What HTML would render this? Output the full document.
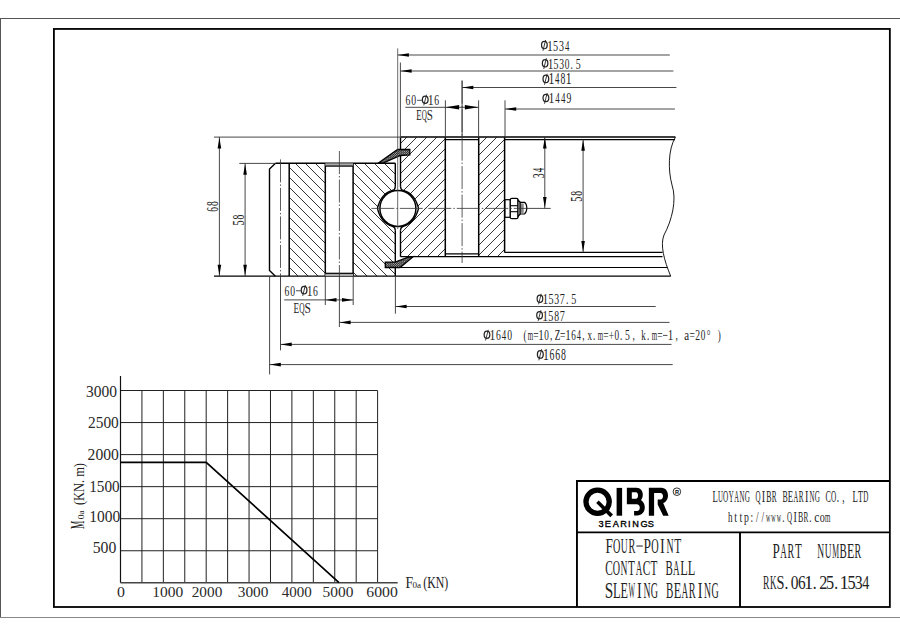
<!DOCTYPE html><html><head><meta charset="utf-8"><style>html,body{margin:0;padding:0;background:#fff;}svg{display:block;}</style></head><body>
<svg width="900" height="636" viewBox="0 0 900 636">
<defs><pattern id="dots" patternUnits="userSpaceOnUse" width="2.2" height="2.2"><rect width="2.2" height="2.2" fill="#151515"/><circle cx="0.55" cy="0.55" r="0.5" fill="#fff"/><circle cx="1.65" cy="1.65" r="0.5" fill="#fff"/></pattern></defs>
<rect x="0" y="0" width="900" height="636" fill="#fff"/>
<line x1="0.00" y1="18.50" x2="900.00" y2="18.50" stroke="#555" stroke-width="1" />
<line x1="0.50" y1="18.00" x2="0.50" y2="618.00" stroke="#555" stroke-width="1" />
<line x1="0.00" y1="617.50" x2="900.00" y2="617.50" stroke="#888" stroke-width="1.1" />
<rect x="53.9" y="28.95" width="835.95" height="578.05" fill="none" stroke="#000" stroke-width="1.8"/>
<clipPath id="h1"><polygon points="289.20,163.30 325.30,163.30 325.30,276.00 289.20,276.00"/></clipPath>
<g clip-path="url(#h1)" stroke="#111" stroke-width="0.85">
<line x1="173.30" y1="161.30" x2="290.00" y2="278.00"/>
<line x1="183.30" y1="161.30" x2="300.00" y2="278.00"/>
<line x1="193.30" y1="161.30" x2="310.00" y2="278.00"/>
<line x1="203.30" y1="161.30" x2="320.00" y2="278.00"/>
<line x1="213.30" y1="161.30" x2="330.00" y2="278.00"/>
<line x1="223.30" y1="161.30" x2="340.00" y2="278.00"/>
<line x1="233.30" y1="161.30" x2="350.00" y2="278.00"/>
<line x1="243.30" y1="161.30" x2="360.00" y2="278.00"/>
<line x1="253.30" y1="161.30" x2="370.00" y2="278.00"/>
<line x1="263.30" y1="161.30" x2="380.00" y2="278.00"/>
<line x1="273.30" y1="161.30" x2="390.00" y2="278.00"/>
<line x1="283.30" y1="161.30" x2="400.00" y2="278.00"/>
<line x1="293.30" y1="161.30" x2="410.00" y2="278.00"/>
<line x1="303.30" y1="161.30" x2="420.00" y2="278.00"/>
<line x1="313.30" y1="161.30" x2="430.00" y2="278.00"/>
<line x1="323.30" y1="161.30" x2="440.00" y2="278.00"/>
</g>
<clipPath id="h2"><polygon points="353.10,163.30 395.30,163.30 395.30,276.00 353.10,276.00"/></clipPath>
<g clip-path="url(#h2)" stroke="#111" stroke-width="0.85">
<line x1="232.30" y1="161.30" x2="349.00" y2="278.00"/>
<line x1="242.30" y1="161.30" x2="359.00" y2="278.00"/>
<line x1="252.30" y1="161.30" x2="369.00" y2="278.00"/>
<line x1="262.30" y1="161.30" x2="379.00" y2="278.00"/>
<line x1="272.30" y1="161.30" x2="389.00" y2="278.00"/>
<line x1="282.30" y1="161.30" x2="399.00" y2="278.00"/>
<line x1="292.30" y1="161.30" x2="409.00" y2="278.00"/>
<line x1="302.30" y1="161.30" x2="419.00" y2="278.00"/>
<line x1="312.30" y1="161.30" x2="429.00" y2="278.00"/>
<line x1="322.30" y1="161.30" x2="439.00" y2="278.00"/>
<line x1="332.30" y1="161.30" x2="449.00" y2="278.00"/>
<line x1="342.30" y1="161.30" x2="459.00" y2="278.00"/>
<line x1="352.30" y1="161.30" x2="469.00" y2="278.00"/>
<line x1="362.30" y1="161.30" x2="479.00" y2="278.00"/>
<line x1="372.30" y1="161.30" x2="489.00" y2="278.00"/>
<line x1="382.30" y1="161.30" x2="499.00" y2="278.00"/>
<line x1="392.30" y1="161.30" x2="509.00" y2="278.00"/>
</g>
<clipPath id="h3"><polygon points="400.50,137.30 445.30,137.30 445.30,256.40 400.50,256.40"/></clipPath>
<g clip-path="url(#h3)" stroke="#111" stroke-width="0.85">
<line x1="398.70" y1="135.30" x2="275.60" y2="258.40"/>
<line x1="408.70" y1="135.30" x2="285.60" y2="258.40"/>
<line x1="418.70" y1="135.30" x2="295.60" y2="258.40"/>
<line x1="428.70" y1="135.30" x2="305.60" y2="258.40"/>
<line x1="438.70" y1="135.30" x2="315.60" y2="258.40"/>
<line x1="448.70" y1="135.30" x2="325.60" y2="258.40"/>
<line x1="458.70" y1="135.30" x2="335.60" y2="258.40"/>
<line x1="468.70" y1="135.30" x2="345.60" y2="258.40"/>
<line x1="478.70" y1="135.30" x2="355.60" y2="258.40"/>
<line x1="488.70" y1="135.30" x2="365.60" y2="258.40"/>
<line x1="498.70" y1="135.30" x2="375.60" y2="258.40"/>
<line x1="508.70" y1="135.30" x2="385.60" y2="258.40"/>
<line x1="518.70" y1="135.30" x2="395.60" y2="258.40"/>
<line x1="528.70" y1="135.30" x2="405.60" y2="258.40"/>
<line x1="538.70" y1="135.30" x2="415.60" y2="258.40"/>
<line x1="548.70" y1="135.30" x2="425.60" y2="258.40"/>
<line x1="558.70" y1="135.30" x2="435.60" y2="258.40"/>
</g>
<clipPath id="h4"><polygon points="478.70,137.30 504.60,137.30 504.60,256.40 478.70,256.40"/></clipPath>
<g clip-path="url(#h4)" stroke="#111" stroke-width="0.85">
<line x1="478.70" y1="135.30" x2="355.60" y2="258.40"/>
<line x1="488.70" y1="135.30" x2="365.60" y2="258.40"/>
<line x1="498.70" y1="135.30" x2="375.60" y2="258.40"/>
<line x1="508.70" y1="135.30" x2="385.60" y2="258.40"/>
<line x1="518.70" y1="135.30" x2="395.60" y2="258.40"/>
<line x1="528.70" y1="135.30" x2="405.60" y2="258.40"/>
<line x1="538.70" y1="135.30" x2="415.60" y2="258.40"/>
<line x1="548.70" y1="135.30" x2="425.60" y2="258.40"/>
<line x1="558.70" y1="135.30" x2="435.60" y2="258.40"/>
<line x1="568.70" y1="135.30" x2="445.60" y2="258.40"/>
<line x1="578.70" y1="135.30" x2="455.60" y2="258.40"/>
<line x1="588.70" y1="135.30" x2="465.60" y2="258.40"/>
<line x1="598.70" y1="135.30" x2="475.60" y2="258.40"/>
<line x1="608.70" y1="135.30" x2="485.60" y2="258.40"/>
<line x1="618.70" y1="135.30" x2="495.60" y2="258.40"/>
</g>
<path d="M 395.3 186.5 Q 395.3 189.6 392.5 190.4 Q 381 193.5 377.4 208.4 Q 381 223.3 392.5 226.4 Q 395.3 227.2 395.3 230.3 L 400.5 230.3 Q 400.5 227.2 403.3 226.4 Q 414.8 223.3 418.6 208.4 Q 414.8 193.5 403.3 190.4 Q 400.5 189.6 400.5 186.5 Z" fill="#fff"/>
<rect x="395.3" y="138" width="5.2" height="138" fill="#fff"/>
<polyline points="275.50,163.30 269.50,169.00 269.50,270.50 275.40,276.20" fill="none" stroke="#000" stroke-width="1.4" stroke-linejoin="miter" />
<line x1="275.50" y1="163.30" x2="395.30" y2="163.30" stroke="#000" stroke-width="1.4" />
<line x1="214.00" y1="276.10" x2="670.70" y2="276.10" stroke="#000" stroke-width="1.2" />
<line x1="289.20" y1="163.30" x2="289.20" y2="276.10" stroke="#000" stroke-width="1.5" />
<line x1="325.30" y1="163.30" x2="325.30" y2="276.10" stroke="#000" stroke-width="1.5" />
<line x1="353.10" y1="163.30" x2="353.10" y2="276.10" stroke="#000" stroke-width="1.5" />
<rect x="325.3" y="163.3" width="27.8" height="2.8" fill="#aaa"/>
<line x1="325.30" y1="166.10" x2="353.10" y2="166.10" stroke="#000" stroke-width="1.2" />
<rect x="325.3" y="273.3" width="27.8" height="2.8" fill="#aaa"/>
<line x1="325.30" y1="273.30" x2="353.10" y2="273.30" stroke="#000" stroke-width="1.2" />
<line x1="395.30" y1="163.30" x2="395.30" y2="186.70" stroke="#000" stroke-width="1.4" />
<line x1="395.30" y1="230.30" x2="395.30" y2="276.10" stroke="#000" stroke-width="1.4" />
<line x1="400.50" y1="137.00" x2="675.40" y2="137.00" stroke="#000" stroke-width="1.5" />
<line x1="505.00" y1="139.60" x2="675.00" y2="139.60" stroke="#000" stroke-width="1.2" />
<line x1="400.50" y1="137.30" x2="400.50" y2="186.70" stroke="#000" stroke-width="1.4" />
<line x1="400.50" y1="230.30" x2="400.50" y2="256.60" stroke="#000" stroke-width="1.4" />
<line x1="400.40" y1="256.60" x2="662.50" y2="256.60" stroke="#000" stroke-width="1.2" />
<line x1="445.30" y1="137.30" x2="445.30" y2="256.60" stroke="#000" stroke-width="1.5" />
<line x1="478.70" y1="137.30" x2="478.70" y2="256.60" stroke="#000" stroke-width="1.5" />
<line x1="504.60" y1="137.30" x2="504.60" y2="252.50" stroke="#000" stroke-width="1.5" />
<line x1="504.60" y1="252.30" x2="662.50" y2="252.30" stroke="#000" stroke-width="1.2" />
<line x1="445.30" y1="139.60" x2="478.70" y2="139.60" stroke="#000" stroke-width="1.2" />
<line x1="445.30" y1="253.80" x2="478.70" y2="253.80" stroke="#000" stroke-width="1.2" />
<line x1="385.30" y1="267.50" x2="667.50" y2="267.50" stroke="#000" stroke-width="1.2" />
<path d="M 395.3 186.5 Q 395.3 189.6 392.5 190.4 Q 381 193.5 377.4 208.4 Q 381 223.3 392.5 226.4 Q 395.3 227.2 395.3 230.3" fill="none" stroke="#000" stroke-width="1.3"/>
<path d="M 400.5 186.5 Q 400.5 189.6 403.3 190.4 Q 414.8 193.5 418.6 208.4 Q 414.8 223.3 403.3 226.4 Q 400.5 227.2 400.5 230.3" fill="none" stroke="#000" stroke-width="1.3"/>
<circle cx="397.9" cy="208.4" r="18" fill="#fff" stroke="#000" stroke-width="1.5"/>
<polygon points="378.40,163.00 397.60,149.50 409.80,149.50 409.80,154.80 400.40,155.50 383.00,163.00" fill="url(#dots)" stroke="#000" stroke-width="1.3" stroke-linejoin="miter" />
<polygon points="385.30,262.10 395.20,262.10 407.60,257.30 413.20,256.70 400.00,267.50 385.30,267.50" fill="url(#dots)" stroke="#000" stroke-width="1.3" stroke-linejoin="miter" />
<path d="M 675.4 137.1 C 668 150, 668 170, 672 185 C 677 200, 672 220, 664 235 C 660 245, 664 260, 670.7 276.2" fill="none" stroke="#000" stroke-width="0.9"/>
<g fill="#fff" stroke="#000" stroke-width="1.2">
<rect x="505" y="199.7" width="5.3" height="17.6"/>
<rect x="510.3" y="198.3" width="7.7" height="20.4" rx="1.5"/>
<polygon points="518,200 520.2,202.3 520.2,214 518,216.6"/>
<path d="M 520.2 202.3 L 524.5 202.3 Q 526.8 204 526.8 208.1 Q 526.8 212.3 524.5 214 L 520.2 214 Z"/>
</g>
<line x1="510.30" y1="205.70" x2="518.00" y2="205.70" stroke="#000" stroke-width="1.1" />
<line x1="510.30" y1="211.70" x2="518.00" y2="211.70" stroke="#000" stroke-width="1.1" />
<rect x="521" y="203.5" width="2.7" height="9.4" fill="#888"/>
<line x1="280.50" y1="159.40" x2="280.50" y2="276.00" stroke="#333" stroke-width="0.8" stroke-dasharray="23 2 1.5 2"/>
<line x1="339.40" y1="151.00" x2="339.40" y2="276.00" stroke="#333" stroke-width="0.8" stroke-dasharray="23 2 1.5 2"/>
<line x1="462.10" y1="80.60" x2="462.10" y2="263.00" stroke="#333" stroke-width="0.8" stroke-dasharray="23 2 1.5 2"/>
<line x1="371.30" y1="208.40" x2="526.80" y2="208.40" stroke="#333" stroke-width="0.8" stroke-dasharray="23 2 1.5 2"/>
<line x1="397.70" y1="48.40" x2="397.70" y2="229.00" stroke="#444" stroke-width="0.8" />
<line x1="214.00" y1="137.10" x2="400.50" y2="137.10" stroke="#333" stroke-width="0.9" />
<line x1="239.30" y1="163.40" x2="275.50" y2="163.40" stroke="#333" stroke-width="0.9" />
<line x1="219.40" y1="137.10" x2="219.40" y2="276.10" stroke="#333" stroke-width="0.9" />
<polygon points="219.40,137.40 217.60,148.40 221.20,148.40" fill="#000"/>
<polygon points="219.40,275.80 217.60,264.80 221.20,264.80" fill="#000"/>
<line x1="245.10" y1="163.40" x2="245.10" y2="276.10" stroke="#333" stroke-width="0.9" />
<polygon points="245.10,163.70 243.30,174.70 246.90,174.70" fill="#000"/>
<polygon points="245.10,275.80 243.30,264.80 246.90,264.80" fill="#000"/>
<line x1="400.40" y1="62.50" x2="400.40" y2="137.30" stroke="#333" stroke-width="0.9" />
<line x1="462.10" y1="80.60" x2="462.10" y2="137.30" stroke="#333" stroke-width="0.9" />
<line x1="445.40" y1="100.30" x2="445.40" y2="137.30" stroke="#333" stroke-width="0.9" />
<line x1="478.60" y1="100.30" x2="478.60" y2="137.30" stroke="#333" stroke-width="0.9" />
<line x1="505.00" y1="100.30" x2="505.00" y2="137.30" stroke="#333" stroke-width="0.9" />
<line x1="397.70" y1="55.00" x2="669.80" y2="55.00" stroke="#333" stroke-width="0.9" />
<polygon points="397.90,55.00 408.90,53.20 408.90,56.80" fill="#000"/>
<line x1="400.40" y1="71.00" x2="673.40" y2="71.00" stroke="#333" stroke-width="0.9" />
<polygon points="400.60,71.00 411.60,69.20 411.60,72.80" fill="#000"/>
<line x1="462.10" y1="87.50" x2="676.40" y2="87.50" stroke="#333" stroke-width="0.9" />
<polygon points="462.30,87.50 473.30,85.70 473.30,89.30" fill="#000"/>
<line x1="505.00" y1="109.00" x2="674.90" y2="109.00" stroke="#333" stroke-width="0.9" />
<polygon points="505.20,109.00 516.20,107.20 516.20,110.80" fill="#000"/>
<line x1="405.30" y1="107.30" x2="478.60" y2="107.30" stroke="#333" stroke-width="0.9" />
<polygon points="445.60,107.30 459.10,105.10 459.10,109.50" fill="#000"/>
<polygon points="478.40,107.30 464.90,105.10 464.90,109.50" fill="#000"/>
<line x1="526.80" y1="208.40" x2="550.70" y2="208.40" stroke="#333" stroke-width="0.9" />
<line x1="544.80" y1="137.30" x2="544.80" y2="208.40" stroke="#333" stroke-width="0.9" />
<polygon points="544.80,137.60 543.00,148.60 546.60,148.60" fill="#000"/>
<polygon points="544.80,208.10 543.00,197.10 546.60,197.10" fill="#000"/>
<line x1="583.10" y1="139.60" x2="583.10" y2="252.30" stroke="#333" stroke-width="0.9" />
<polygon points="583.10,139.80 581.30,150.80 584.90,150.80" fill="#000"/>
<polygon points="583.10,252.00 581.30,241.00 584.90,241.00" fill="#000"/>
<line x1="269.60" y1="276.00" x2="269.60" y2="374.40" stroke="#333" stroke-width="0.9" />
<line x1="280.50" y1="276.00" x2="280.50" y2="350.30" stroke="#333" stroke-width="0.9" />
<line x1="325.30" y1="276.00" x2="325.30" y2="305.00" stroke="#333" stroke-width="0.9" />
<line x1="353.20" y1="276.00" x2="353.20" y2="305.00" stroke="#333" stroke-width="0.9" />
<line x1="339.40" y1="276.00" x2="339.40" y2="327.00" stroke="#333" stroke-width="0.9" />
<line x1="395.40" y1="276.00" x2="395.40" y2="313.70" stroke="#333" stroke-width="0.9" />
<line x1="284.20" y1="299.90" x2="353.20" y2="299.90" stroke="#333" stroke-width="0.9" />
<polygon points="325.50,299.90 336.50,298.00 336.50,301.80" fill="#000"/>
<polygon points="353.00,299.90 342.00,298.00 342.00,301.80" fill="#000"/>
<line x1="395.40" y1="306.50" x2="655.70" y2="306.50" stroke="#333" stroke-width="0.9" />
<polygon points="395.60,306.50 406.60,304.70 406.60,308.30" fill="#000"/>
<line x1="339.40" y1="322.40" x2="669.50" y2="322.40" stroke="#333" stroke-width="0.9" />
<polygon points="339.60,322.40 350.60,320.60 350.60,324.20" fill="#000"/>
<line x1="280.50" y1="344.40" x2="671.50" y2="344.40" stroke="#333" stroke-width="0.9" />
<polygon points="280.70,344.40 291.70,342.60 291.70,346.20" fill="#000"/>
<line x1="269.60" y1="364.60" x2="672.70" y2="364.60" stroke="#333" stroke-width="0.9" />
<polygon points="269.80,364.60 280.80,362.80 280.80,366.40" fill="#000"/>
<g font-family="Liberation Serif" fill="#222"><ellipse cx="544.38" cy="45.04" rx="2.84" ry="3.71" fill="none" stroke="#222" stroke-width="1.24"/><line x1="545.65" y1="39.99" x2="542.95" y2="50.81" stroke="#222" stroke-width="0.88"/><text transform="translate(550.06,50.50) scale(0.745,1)" x="-4.12" y="0" font-size="15.61">1</text><text transform="translate(555.75,50.50) scale(0.651,1)" x="-4.05" y="0" font-size="15.61">5</text><text transform="translate(561.44,50.50) scale(0.635,1)" x="-3.97" y="0" font-size="15.61">3</text><text transform="translate(567.12,50.50) scale(0.564,1)" x="-3.93" y="0" font-size="15.61">4</text></g>
<g font-family="Liberation Serif" fill="#222"><ellipse cx="545.11" cy="63.24" rx="2.76" ry="3.71" fill="none" stroke="#222" stroke-width="1.24"/><line x1="546.35" y1="58.19" x2="543.73" y2="69.01" stroke="#222" stroke-width="0.88"/><text transform="translate(550.62,68.70) scale(0.723,1)" x="-4.12" y="0" font-size="15.61">1</text><text transform="translate(556.14,68.70) scale(0.632,1)" x="-4.05" y="0" font-size="15.61">5</text><text transform="translate(561.65,68.70) scale(0.616,1)" x="-3.97" y="0" font-size="15.61">3</text><text transform="translate(567.16,68.70) scale(0.600,1)" x="-3.90" y="0" font-size="15.61">0</text><text transform="translate(571.69,68.70) scale(0.600,1)" x="-1.95" y="0" font-size="15.61">.</text><text transform="translate(578.19,68.70) scale(0.632,1)" x="-4.05" y="0" font-size="15.61">5</text></g>
<g font-family="Liberation Serif" fill="#222"><ellipse cx="545.88" cy="78.89" rx="2.85" ry="3.74" fill="none" stroke="#222" stroke-width="1.25"/><line x1="547.17" y1="73.79" x2="544.46" y2="84.71" stroke="#222" stroke-width="0.88"/><text transform="translate(551.59,84.40) scale(0.741,1)" x="-4.16" y="0" font-size="15.76">1</text><text transform="translate(557.30,84.40) scale(0.561,1)" x="-3.97" y="0" font-size="15.76">4</text><text transform="translate(563.01,84.40) scale(0.615,1)" x="-3.94" y="0" font-size="15.76">8</text><text transform="translate(568.72,84.40) scale(0.741,1)" x="-4.16" y="0" font-size="15.76">1</text></g>
<g font-family="Liberation Serif" fill="#222"><ellipse cx="545.91" cy="97.99" rx="2.89" ry="3.67" fill="none" stroke="#222" stroke-width="1.22"/><line x1="547.21" y1="93.00" x2="544.47" y2="103.71" stroke="#222" stroke-width="0.87"/><text transform="translate(551.68,103.40) scale(0.764,1)" x="-4.08" y="0" font-size="15.45">1</text><text transform="translate(557.45,103.40) scale(0.578,1)" x="-3.89" y="0" font-size="15.45">4</text><text transform="translate(563.22,103.40) scale(0.578,1)" x="-3.89" y="0" font-size="15.45">4</text><text transform="translate(568.99,103.40) scale(0.630,1)" x="-3.80" y="0" font-size="15.45">9</text></g>
<g font-family="Liberation Serif" fill="#222"><text transform="translate(408.00,105.10) scale(0.626,1)" x="-3.97" y="0" font-size="15.45">6</text><text transform="translate(413.74,105.10) scale(0.631,1)" x="-3.86" y="0" font-size="15.45">0</text><line x1="417.07" y1="100.31" x2="421.89" y2="100.31" stroke="#222" stroke-width="0.80"/><ellipse cx="425.22" cy="99.69" rx="2.87" ry="3.67" fill="none" stroke="#222" stroke-width="1.22"/><line x1="426.51" y1="94.70" x2="423.79" y2="105.41" stroke="#222" stroke-width="0.87"/><text transform="translate(430.96,105.10) scale(0.760,1)" x="-4.08" y="0" font-size="15.45">1</text><text transform="translate(436.70,105.10) scale(0.626,1)" x="-3.97" y="0" font-size="15.45">6</text></g>
<g font-family="Liberation Serif" fill="#222"><text transform="translate(418.89,119.60) scale(0.601,1)" x="-4.33" y="0" font-size="14.70">E</text><text transform="translate(424.35,119.60) scale(0.481,1)" x="-5.48" y="0" font-size="14.70">Q</text><text transform="translate(429.81,119.60) scale(0.748,1)" x="-4.12" y="0" font-size="14.70">S</text></g>
<g font-family="Liberation Serif" fill="#222"><text transform="translate(287.07,295.60) scale(0.613,1)" x="-4.00" y="0" font-size="15.61">6</text><text transform="translate(292.74,295.60) scale(0.617,1)" x="-3.90" y="0" font-size="15.61">0</text><line x1="296.03" y1="290.76" x2="300.80" y2="290.76" stroke="#222" stroke-width="0.80"/><ellipse cx="304.09" cy="290.14" rx="2.84" ry="3.71" fill="none" stroke="#222" stroke-width="1.24"/><line x1="305.36" y1="285.09" x2="302.67" y2="295.91" stroke="#222" stroke-width="0.88"/><text transform="translate(309.76,295.60) scale(0.743,1)" x="-4.12" y="0" font-size="15.61">1</text><text transform="translate(315.43,295.60) scale(0.613,1)" x="-4.00" y="0" font-size="15.61">6</text></g>
<g font-family="Liberation Serif" fill="#222"><text transform="translate(296.29,312.60) scale(0.622,1)" x="-4.38" y="0" font-size="14.85">E</text><text transform="translate(302.00,312.60) scale(0.498,1)" x="-5.54" y="0" font-size="14.85">Q</text><text transform="translate(307.71,312.60) scale(0.775,1)" x="-4.17" y="0" font-size="14.85">S</text></g>
<g font-family="Liberation Serif" fill="#222"><ellipse cx="539.95" cy="298.70" rx="2.82" ry="3.60" fill="none" stroke="#222" stroke-width="1.20"/><line x1="541.22" y1="293.80" x2="538.54" y2="304.30" stroke="#222" stroke-width="0.85"/><text transform="translate(545.59,304.00) scale(0.760,1)" x="-4.00" y="0" font-size="15.15">1</text><text transform="translate(551.22,304.00) scale(0.664,1)" x="-3.93" y="0" font-size="15.15">5</text><text transform="translate(556.85,304.00) scale(0.648,1)" x="-3.85" y="0" font-size="15.15">3</text><text transform="translate(562.48,304.00) scale(0.660,1)" x="-4.07" y="0" font-size="15.15">7</text><text transform="translate(567.10,304.00) scale(0.631,1)" x="-1.89" y="0" font-size="15.15">.</text><text transform="translate(573.75,304.00) scale(0.664,1)" x="-3.93" y="0" font-size="15.15">5</text></g>
<g font-family="Liberation Serif" fill="#222"><ellipse cx="539.58" cy="315.19" rx="2.85" ry="3.67" fill="none" stroke="#222" stroke-width="1.22"/><line x1="540.87" y1="310.20" x2="538.16" y2="320.91" stroke="#222" stroke-width="0.87"/><text transform="translate(545.29,320.60) scale(0.755,1)" x="-4.08" y="0" font-size="15.45">1</text><text transform="translate(551.00,320.60) scale(0.660,1)" x="-4.01" y="0" font-size="15.45">5</text><text transform="translate(556.71,320.60) scale(0.627,1)" x="-3.86" y="0" font-size="15.45">8</text><text transform="translate(562.42,320.60) scale(0.656,1)" x="-4.15" y="0" font-size="15.45">7</text></g>
<g font-family="Liberation Serif" fill="#222"><ellipse cx="486.97" cy="334.79" rx="2.84" ry="3.67" fill="none" stroke="#222" stroke-width="1.22"/><line x1="488.25" y1="329.80" x2="485.55" y2="340.51" stroke="#222" stroke-width="0.87"/><text transform="translate(492.66,340.20) scale(0.753,1)" x="-4.08" y="0" font-size="15.45">1</text><text transform="translate(498.35,340.20) scale(0.620,1)" x="-3.97" y="0" font-size="15.45">6</text><text transform="translate(504.04,340.20) scale(0.570,1)" x="-3.89" y="0" font-size="15.45">4</text><text transform="translate(509.72,340.20) scale(0.625,1)" x="-3.86" y="0" font-size="15.45">0</text></g>
<g font-family="Liberation Serif" fill="#222"><text transform="translate(525.05,340.20) scale(0.592,1)" x="-2.66" y="0" font-size="15.45">(</text><text transform="translate(530.44,340.20) scale(0.447,1)" x="-6.05" y="0" font-size="15.45">m</text><text transform="translate(535.83,340.20) scale(0.615,1)" x="-4.37" y="0" font-size="15.45">=</text><text transform="translate(541.22,340.20) scale(0.714,1)" x="-4.08" y="0" font-size="15.45">1</text><text transform="translate(546.62,340.20) scale(0.593,1)" x="-3.86" y="0" font-size="15.45">0</text><text transform="translate(551.04,340.20) scale(0.592,1)" x="-1.74" y="0" font-size="15.45">,</text><text transform="translate(557.40,340.20) scale(0.590,1)" x="-4.67" y="0" font-size="15.45">Z</text><text transform="translate(562.79,340.20) scale(0.615,1)" x="-4.37" y="0" font-size="15.45">=</text><text transform="translate(568.18,340.20) scale(0.714,1)" x="-4.08" y="0" font-size="15.45">1</text><text transform="translate(573.57,340.20) scale(0.588,1)" x="-3.97" y="0" font-size="15.45">6</text><text transform="translate(578.97,340.20) scale(0.540,1)" x="-3.89" y="0" font-size="15.45">4</text><text transform="translate(583.39,340.20) scale(0.592,1)" x="-1.74" y="0" font-size="15.45">,</text><text transform="translate(589.75,340.20) scale(0.583,1)" x="-3.84" y="0" font-size="15.45">x</text><text transform="translate(594.17,340.20) scale(0.592,1)" x="-1.93" y="0" font-size="15.45">.</text><text transform="translate(600.53,340.20) scale(0.447,1)" x="-6.05" y="0" font-size="15.45">m</text><text transform="translate(605.92,340.20) scale(0.615,1)" x="-4.37" y="0" font-size="15.45">=</text><text transform="translate(611.32,340.20) scale(0.615,1)" x="-4.37" y="0" font-size="15.45">+</text><text transform="translate(616.71,340.20) scale(0.593,1)" x="-3.86" y="0" font-size="15.45">0</text><text transform="translate(621.13,340.20) scale(0.592,1)" x="-1.93" y="0" font-size="15.45">.</text><text transform="translate(627.49,340.20) scale(0.624,1)" x="-4.01" y="0" font-size="15.45">5</text><text transform="translate(633.42,340.20) scale(0.592,1)" x="-1.74" y="0" font-size="15.45">,</text><text transform="translate(643.67,340.20) scale(0.580,1)" x="-4.01" y="0" font-size="15.45">k</text><text transform="translate(648.09,340.20) scale(0.592,1)" x="-1.93" y="0" font-size="15.45">.</text><text transform="translate(654.45,340.20) scale(0.447,1)" x="-6.05" y="0" font-size="15.45">m</text><text transform="translate(659.84,340.20) scale(0.615,1)" x="-4.37" y="0" font-size="15.45">=</text><line x1="662.97" y1="335.41" x2="667.50" y2="335.41" stroke="#222" stroke-width="0.80"/><text transform="translate(670.63,340.20) scale(0.714,1)" x="-4.08" y="0" font-size="15.45">1</text><text transform="translate(676.56,340.20) scale(0.592,1)" x="-1.74" y="0" font-size="15.45">,</text><text transform="translate(686.80,340.20) scale(0.707,1)" x="-3.60" y="0" font-size="15.45">a</text><text transform="translate(692.19,340.20) scale(0.615,1)" x="-4.37" y="0" font-size="15.45">=</text><text transform="translate(697.58,340.20) scale(0.627,1)" x="-3.78" y="0" font-size="15.45">2</text><text transform="translate(702.98,340.20) scale(0.593,1)" x="-3.86" y="0" font-size="15.45">0</text><text transform="translate(708.64,340.20) scale(0.592,1)" x="-3.08" y="0" font-size="15.45">°</text><text transform="translate(719.15,340.20) scale(0.592,1)" x="-2.48" y="0" font-size="15.45">)</text></g>
<g font-family="Liberation Serif" fill="#222"><ellipse cx="540.32" cy="354.38" rx="2.90" ry="3.82" fill="none" stroke="#222" stroke-width="1.27"/><line x1="541.62" y1="349.19" x2="538.87" y2="360.32" stroke="#222" stroke-width="0.90"/><text transform="translate(546.11,360.00) scale(0.738,1)" x="-4.24" y="0" font-size="16.06">1</text><text transform="translate(551.90,360.00) scale(0.608,1)" x="-4.12" y="0" font-size="16.06">6</text><text transform="translate(557.69,360.00) scale(0.608,1)" x="-4.12" y="0" font-size="16.06">6</text><text transform="translate(563.48,360.00) scale(0.613,1)" x="-4.02" y="0" font-size="16.06">8</text></g>
<g transform="translate(217.70,211.60) rotate(-90)">
<g font-family="Liberation Serif" fill="#222"><text transform="translate(2.24,0.00) scale(0.589,1)" x="-4.12" y="0" font-size="16.06">6</text><text transform="translate(7.86,0.00) scale(0.594,1)" x="-4.02" y="0" font-size="16.06">8</text></g>
</g>
<g transform="translate(243.90,225.10) rotate(-90)">
<g font-family="Liberation Serif" fill="#222"><text transform="translate(2.27,0.00) scale(0.613,1)" x="-4.29" y="0" font-size="16.52">5</text><text transform="translate(7.93,0.00) scale(0.583,1)" x="-4.13" y="0" font-size="16.52">8</text></g>
</g>
<g transform="translate(543.60,177.90) rotate(-90)">
<g font-family="Liberation Serif" fill="#222"><text transform="translate(2.27,0.00) scale(0.615,1)" x="-4.09" y="0" font-size="16.06">3</text><text transform="translate(7.93,0.00) scale(0.547,1)" x="-4.05" y="0" font-size="16.06">4</text></g>
</g>
<g transform="translate(582.10,201.30) rotate(-90)">
<g font-family="Liberation Serif" fill="#222"><text transform="translate(2.27,0.00) scale(0.631,1)" x="-4.17" y="0" font-size="16.06">5</text><text transform="translate(7.93,0.00) scale(0.599,1)" x="-4.02" y="0" font-size="16.06">8</text></g>
</g>
<line x1="141.93" y1="390.50" x2="141.93" y2="582.80" stroke="#222" stroke-width="1.0" />
<line x1="163.35" y1="390.50" x2="163.35" y2="582.80" stroke="#222" stroke-width="1.0" />
<line x1="184.78" y1="390.50" x2="184.78" y2="582.80" stroke="#222" stroke-width="1.0" />
<line x1="206.20" y1="390.50" x2="206.20" y2="582.80" stroke="#222" stroke-width="1.0" />
<line x1="227.62" y1="390.50" x2="227.62" y2="582.80" stroke="#222" stroke-width="1.0" />
<line x1="249.05" y1="390.50" x2="249.05" y2="582.80" stroke="#222" stroke-width="1.0" />
<line x1="270.48" y1="390.50" x2="270.48" y2="582.80" stroke="#222" stroke-width="1.0" />
<line x1="291.90" y1="390.50" x2="291.90" y2="582.80" stroke="#222" stroke-width="1.0" />
<line x1="313.33" y1="390.50" x2="313.33" y2="582.80" stroke="#222" stroke-width="1.0" />
<line x1="334.75" y1="390.50" x2="334.75" y2="582.80" stroke="#222" stroke-width="1.0" />
<line x1="356.18" y1="390.50" x2="356.18" y2="582.80" stroke="#222" stroke-width="1.0" />
<line x1="377.60" y1="390.50" x2="377.60" y2="582.80" stroke="#222" stroke-width="1.0" />
<line x1="120.50" y1="550.75" x2="377.60" y2="550.75" stroke="#222" stroke-width="1.0" />
<line x1="120.50" y1="518.70" x2="377.60" y2="518.70" stroke="#222" stroke-width="1.0" />
<line x1="120.50" y1="486.65" x2="377.60" y2="486.65" stroke="#222" stroke-width="1.0" />
<line x1="120.50" y1="454.60" x2="377.60" y2="454.60" stroke="#222" stroke-width="1.0" />
<line x1="120.50" y1="422.55" x2="377.60" y2="422.55" stroke="#222" stroke-width="1.0" />
<line x1="120.50" y1="390.50" x2="377.60" y2="390.50" stroke="#222" stroke-width="1.0" />
<line x1="120.50" y1="376.00" x2="120.50" y2="582.80" stroke="#111" stroke-width="1.2" />
<line x1="120.50" y1="582.80" x2="397.70" y2="582.80" stroke="#444" stroke-width="1.6" />
<polyline points="120.50,462.30 206.20,462.30 339.00,582.70" fill="none" stroke="#000" stroke-width="1.7" stroke-linejoin="miter" />
<text transform="translate(85.96,396.70) scale(0.982,1)" x="0" y="0" font-family="Liberation Serif" font-size="15.80" fill="#2a2a2a">3000</text>
<text transform="translate(88.02,428.00) scale(0.973,1)" x="0" y="0" font-family="Liberation Serif" font-size="15.80" fill="#2a2a2a">2500</text>
<text transform="translate(87.61,459.90) scale(0.990,1)" x="0" y="0" font-family="Liberation Serif" font-size="15.80" fill="#2a2a2a">2000</text>
<text transform="translate(89.26,492.10) scale(0.963,1)" x="0" y="0" font-family="Liberation Serif" font-size="15.80" fill="#2a2a2a">1500</text>
<text transform="translate(89.24,521.90) scale(0.979,1)" x="0" y="0" font-family="Liberation Serif" font-size="15.80" fill="#2a2a2a">1000</text>
<text transform="translate(92.69,553.40) scale(0.996,1)" x="0" y="0" font-family="Liberation Serif" font-size="15.80" fill="#2a2a2a">500</text>
<text transform="translate(117.10,597.20) scale(1.047,1)" x="0" y="0" font-family="Liberation Serif" font-size="15.10" fill="#2a2a2a">0</text>
<text transform="translate(152.34,597.20) scale(1.025,1)" x="0" y="0" font-family="Liberation Serif" font-size="15.10" fill="#2a2a2a">1000</text>
<text transform="translate(191.73,597.20) scale(1.012,1)" x="0" y="0" font-family="Liberation Serif" font-size="15.10" fill="#2a2a2a">2000</text>
<text transform="translate(237.77,597.20) scale(1.014,1)" x="0" y="0" font-family="Liberation Serif" font-size="15.10" fill="#2a2a2a">3000</text>
<text transform="translate(281.71,597.20) scale(0.996,1)" x="0" y="0" font-family="Liberation Serif" font-size="15.10" fill="#2a2a2a">4000</text>
<text transform="translate(322.61,597.20) scale(1.019,1)" x="0" y="0" font-family="Liberation Serif" font-size="15.10" fill="#2a2a2a">5000</text>
<text transform="translate(366.32,597.20) scale(1.042,1)" x="0" y="0" font-family="Liberation Serif" font-size="15.10" fill="#2a2a2a">6000</text>
<text x="405.50" y="587.90" font-family="Liberation Serif" font-size="16.20" font-weight="normal" fill="#222" text-anchor="start" textLength="7.60" lengthAdjust="spacingAndGlyphs" >F</text>
<text x="412.50" y="587.60" font-family="Liberation Serif" font-size="7.50" font-weight="normal" fill="#222" text-anchor="start" textLength="8.60" lengthAdjust="spacingAndGlyphs" >0a</text>
<text x="423.30" y="587.90" font-family="Liberation Serif" font-size="16.00" font-weight="normal" fill="#222" text-anchor="start" textLength="25.00" lengthAdjust="spacingAndGlyphs" >(KN)</text>
<g transform="translate(83.6,528.9) rotate(-90)">
<text x="0.00" y="0.00" font-family="Liberation Serif" font-size="18.40" font-weight="normal" fill="#222" text-anchor="start" textLength="8.40" lengthAdjust="spacingAndGlyphs" >M</text>
<text x="9.70" y="0.00" font-family="Liberation Serif" font-size="8.50" font-weight="normal" fill="#222" text-anchor="start" textLength="9.00" lengthAdjust="spacingAndGlyphs" >0a</text>
<text x="23.90" y="0.00" font-family="Liberation Serif" font-size="15.60" font-weight="normal" fill="#222" text-anchor="start" textLength="42.00" lengthAdjust="spacingAndGlyphs" >(KN. m)</text>
</g>
<g fill="none" stroke="#000" stroke-width="1.9">
<polyline points="576.95,607 576.95,481 890,481"/>
<line x1="576.95" y1="532.30" x2="890.00" y2="532.30" stroke="#000" stroke-width="1.8" />
<line x1="740.00" y1="532.30" x2="740.00" y2="607.00" stroke="#000" stroke-width="1.9" />
</g>
<g fill="#000" fill-rule="evenodd">
<circle cx="597.6" cy="501.75" r="11.65" fill="none" stroke="#000" stroke-width="5.3"/>
<polygon points="596.2,503 598.7,500.5 613,514.6 610.3,517.2"/>
<rect x="616.6" y="487.9" width="5.5" height="27.8"/>
<path d="M626.85,487.7 H636.4 C640.5,487.7 642.8,491 642.8,494.5 C642.8,497 642,499 641,500 C643.5,501.5 644.8,504.5 644.8,507.5 C644.8,512 641.5,515.4 637.5,515.4 H634.1 V511.1 H637 C638.7,511.1 639.8,509.5 639.8,507.6 C639.8,505.6 638.5,504.2 636.8,504.2 H626.85 Z M631.8,492.3 H636 C637.3,492.3 638,493.7 638,495.5 C638,497.3 637.3,498.7 636,498.7 H631.8 Z"/>
<path d="M648.85,487.85 H661.5 C665.5,487.85 668,491.5 668,495.5 C668,499.5 665.5,502.5 663.2,503 L668.7,515.8 H663.2 L657.7,504.6 V499.4 H654.1 V515.8 H648.85 Z M654.1,493.1 H660.5 C662,493.1 663,494.5 663,496.2 C663,498 662,499.4 660.5,499.4 H654.1 Z"/>
</g>
<circle cx="676.9" cy="491.7" r="3.8" fill="none" stroke="#000" stroke-width="0.8"/>
<text x="676.90" y="493.80" font-family="Liberation Sans" font-size="5.60" font-weight="bold" fill="#000" text-anchor="middle" >R</text>
<text transform="translate(601.00,527.3) scale(1.0,1)" text-anchor="middle" font-family="Liberation Sans" font-size="9.2" fill="#000" stroke="#000" stroke-width="0.35">3</text>
<text transform="translate(607.90,527.3) scale(1.0,1)" text-anchor="middle" font-family="Liberation Sans" font-size="9.2" fill="#000" stroke="#000" stroke-width="0.35">E</text>
<text transform="translate(615.70,527.3) scale(1.0,1)" text-anchor="middle" font-family="Liberation Sans" font-size="9.2" fill="#000" stroke="#000" stroke-width="0.35">A</text>
<text transform="translate(623.45,527.3) scale(1.0,1)" text-anchor="middle" font-family="Liberation Sans" font-size="9.2" fill="#000" stroke="#000" stroke-width="0.35">R</text>
<text transform="translate(629.30,527.3) scale(1.0,1)" text-anchor="middle" font-family="Liberation Sans" font-size="9.2" fill="#000" stroke="#000" stroke-width="0.35">I</text>
<text transform="translate(635.50,527.3) scale(1.0,1)" text-anchor="middle" font-family="Liberation Sans" font-size="9.2" fill="#000" stroke="#000" stroke-width="0.35">N</text>
<text transform="translate(644.15,527.3) scale(1.0,1)" text-anchor="middle" font-family="Liberation Sans" font-size="9.2" fill="#000" stroke="#000" stroke-width="0.35">G</text>
<text transform="translate(650.85,527.3) scale(1.0,1)" text-anchor="middle" font-family="Liberation Sans" font-size="9.2" fill="#000" stroke="#000" stroke-width="0.35">S</text>
<g font-family="Liberation Serif" fill="#222"><text transform="translate(714.96,502.00) scale(0.563,1)" x="-4.57" y="0" font-size="15.76">L</text><text transform="translate(720.34,502.00) scale(0.432,1)" x="-5.69" y="0" font-size="15.76">U</text><text transform="translate(725.73,502.00) scale(0.459,1)" x="-5.69" y="0" font-size="15.76">O</text><text transform="translate(731.12,502.00) scale(0.429,1)" x="-5.58" y="0" font-size="15.76">Y</text><text transform="translate(736.51,502.00) scale(0.417,1)" x="-5.71" y="0" font-size="15.76">A</text><text transform="translate(741.90,502.00) scale(0.439,1)" x="-5.74" y="0" font-size="15.76">N</text><text transform="translate(747.29,502.00) scale(0.453,1)" x="-5.77" y="0" font-size="15.76">G</text><text transform="translate(758.07,502.00) scale(0.443,1)" x="-5.88" y="0" font-size="15.76">Q</text><text transform="translate(763.46,502.00) scale(0.639,1)" x="-2.63" y="0" font-size="15.76">I</text><text transform="translate(768.84,502.00) scale(0.499,1)" x="-5.10" y="0" font-size="15.76">B</text><text transform="translate(774.23,502.00) scale(0.462,1)" x="-5.47" y="0" font-size="15.76">R</text><text transform="translate(785.01,502.00) scale(0.499,1)" x="-5.10" y="0" font-size="15.76">B</text><text transform="translate(790.40,502.00) scale(0.553,1)" x="-4.65" y="0" font-size="15.76">E</text><text transform="translate(795.79,502.00) scale(0.417,1)" x="-5.71" y="0" font-size="15.76">A</text><text transform="translate(801.18,502.00) scale(0.462,1)" x="-5.47" y="0" font-size="15.76">R</text><text transform="translate(806.57,502.00) scale(0.639,1)" x="-2.63" y="0" font-size="15.76">I</text><text transform="translate(811.96,502.00) scale(0.439,1)" x="-5.74" y="0" font-size="15.76">N</text><text transform="translate(817.34,502.00) scale(0.453,1)" x="-5.77" y="0" font-size="15.76">G</text><text transform="translate(828.12,502.00) scale(0.515,1)" x="-5.14" y="0" font-size="15.76">C</text><text transform="translate(833.51,502.00) scale(0.459,1)" x="-5.69" y="0" font-size="15.76">O</text><text transform="translate(837.93,502.00) scale(0.581,1)" x="-1.97" y="0" font-size="15.76">.</text><text transform="translate(843.32,502.00) scale(0.581,1)" x="-1.77" y="0" font-size="15.76">,</text><text transform="translate(855.07,502.00) scale(0.563,1)" x="-4.57" y="0" font-size="15.76">L</text><text transform="translate(860.46,502.00) scale(0.510,1)" x="-4.82" y="0" font-size="15.76">T</text><text transform="translate(865.84,502.00) scale(0.450,1)" x="-5.60" y="0" font-size="15.76">D</text></g>
<g font-family="Liberation Serif" fill="#222"><text transform="translate(730.17,522.40) scale(0.612,1)" x="-3.69" y="0" font-size="14.85">h</text><text transform="translate(735.58,522.40) scale(0.681,1)" x="-2.09" y="0" font-size="14.85">t</text><text transform="translate(741.00,522.40) scale(0.681,1)" x="-2.09" y="0" font-size="14.85">t</text><text transform="translate(746.41,522.40) scale(0.656,1)" x="-3.54" y="0" font-size="14.85">p</text><text transform="translate(751.83,522.40) scale(0.619,1)" x="-2.05" y="0" font-size="14.85">:</text><text transform="translate(757.24,522.40) scale(0.619,1)" x="-2.06" y="0" font-size="14.85">/</text><text transform="translate(762.66,522.40) scale(0.619,1)" x="-2.06" y="0" font-size="14.85">/</text><text transform="translate(768.07,522.40) scale(0.407,1)" x="-5.34" y="0" font-size="14.85">w</text><text transform="translate(773.49,522.40) scale(0.407,1)" x="-5.34" y="0" font-size="14.85">w</text><text transform="translate(778.90,522.40) scale(0.407,1)" x="-5.34" y="0" font-size="14.85">w</text><text transform="translate(783.34,522.40) scale(0.619,1)" x="-1.86" y="0" font-size="14.85">.</text><text transform="translate(789.73,522.40) scale(0.472,1)" x="-5.54" y="0" font-size="14.85">Q</text><text transform="translate(795.14,522.40) scale(0.681,1)" x="-2.48" y="0" font-size="14.85">I</text><text transform="translate(800.56,522.40) scale(0.532,1)" x="-4.80" y="0" font-size="14.85">B</text><text transform="translate(805.97,522.40) scale(0.493,1)" x="-5.15" y="0" font-size="14.85">R</text><text transform="translate(810.41,522.40) scale(0.619,1)" x="-1.86" y="0" font-size="14.85">.</text><text transform="translate(816.80,522.40) scale(0.778,1)" x="-3.35" y="0" font-size="14.85">c</text><text transform="translate(822.22,522.40) scale(0.688,1)" x="-3.71" y="0" font-size="14.85">o</text><text transform="translate(827.63,522.40) scale(0.467,1)" x="-5.81" y="0" font-size="14.85">m</text></g>
<g font-family="Liberation Serif" fill="#222"><text transform="translate(609.05,552.60) scale(0.630,1)" x="-5.82" y="0" font-size="21.21">F</text><text transform="translate(616.69,552.60) scale(0.483,1)" x="-7.66" y="0" font-size="21.21">O</text><text transform="translate(624.32,552.60) scale(0.455,1)" x="-7.66" y="0" font-size="21.21">U</text><text transform="translate(631.95,552.60) scale(0.486,1)" x="-7.36" y="0" font-size="21.21">R</text><line x1="636.38" y1="546.02" x2="642.79" y2="546.02" stroke="#222" stroke-width="1.05"/><text transform="translate(647.22,552.60) scale(0.635,1)" x="-5.78" y="0" font-size="21.21">P</text><text transform="translate(654.85,552.60) scale(0.483,1)" x="-7.66" y="0" font-size="21.21">O</text><text transform="translate(662.48,552.60) scale(0.672,1)" x="-3.54" y="0" font-size="21.21">I</text><text transform="translate(670.11,552.60) scale(0.462,1)" x="-7.72" y="0" font-size="21.21">N</text><text transform="translate(677.75,552.60) scale(0.537,1)" x="-6.49" y="0" font-size="21.21">T</text></g>
<g font-family="Liberation Serif" fill="#222"><text transform="translate(609.00,574.60) scale(0.525,1)" x="-7.02" y="0" font-size="21.52">C</text><text transform="translate(616.49,574.60) scale(0.468,1)" x="-7.77" y="0" font-size="21.52">O</text><text transform="translate(623.98,574.60) scale(0.447,1)" x="-7.83" y="0" font-size="21.52">N</text><text transform="translate(631.47,574.60) scale(0.520,1)" x="-6.59" y="0" font-size="21.52">T</text><text transform="translate(638.96,574.60) scale(0.425,1)" x="-7.80" y="0" font-size="21.52">A</text><text transform="translate(646.45,574.60) scale(0.525,1)" x="-7.02" y="0" font-size="21.52">C</text><text transform="translate(653.95,574.60) scale(0.520,1)" x="-6.59" y="0" font-size="21.52">T</text><text transform="translate(668.93,574.60) scale(0.508,1)" x="-6.96" y="0" font-size="21.52">B</text><text transform="translate(676.42,574.60) scale(0.425,1)" x="-7.80" y="0" font-size="21.52">A</text><text transform="translate(683.91,574.60) scale(0.574,1)" x="-6.23" y="0" font-size="21.52">L</text><text transform="translate(691.40,574.60) scale(0.574,1)" x="-6.23" y="0" font-size="21.52">L</text></g>
<g font-family="Liberation Serif" fill="#222"><text transform="translate(609.03,597.90) scale(0.690,1)" x="-6.21" y="0" font-size="22.12">S</text><text transform="translate(616.61,597.90) scale(0.565,1)" x="-6.41" y="0" font-size="22.12">L</text><text transform="translate(624.19,597.90) scale(0.554,1)" x="-6.52" y="0" font-size="22.12">E</text><text transform="translate(631.78,597.90) scale(0.313,1)" x="-10.43" y="0" font-size="22.12">W</text><text transform="translate(639.36,597.90) scale(0.640,1)" x="-3.69" y="0" font-size="22.12">I</text><text transform="translate(646.94,597.90) scale(0.440,1)" x="-8.05" y="0" font-size="22.12">N</text><text transform="translate(654.52,597.90) scale(0.453,1)" x="-8.10" y="0" font-size="22.12">G</text><text transform="translate(669.68,597.90) scale(0.500,1)" x="-7.16" y="0" font-size="22.12">B</text><text transform="translate(677.26,597.90) scale(0.554,1)" x="-6.52" y="0" font-size="22.12">E</text><text transform="translate(684.84,597.90) scale(0.418,1)" x="-8.01" y="0" font-size="22.12">A</text><text transform="translate(692.42,597.90) scale(0.463,1)" x="-7.68" y="0" font-size="22.12">R</text><text transform="translate(700.01,597.90) scale(0.640,1)" x="-3.69" y="0" font-size="22.12">I</text><text transform="translate(707.59,597.90) scale(0.440,1)" x="-8.05" y="0" font-size="22.12">N</text><text transform="translate(715.17,597.90) scale(0.453,1)" x="-8.10" y="0" font-size="22.12">G</text></g>
<g font-family="Liberation Serif" fill="#222"><text transform="translate(776.17,558.20) scale(0.597,1)" x="-5.99" y="0" font-size="21.97">P</text><text transform="translate(783.61,558.20) scale(0.413,1)" x="-7.96" y="0" font-size="21.97">A</text><text transform="translate(791.04,558.20) scale(0.457,1)" x="-7.63" y="0" font-size="21.97">R</text><text transform="translate(798.47,558.20) scale(0.505,1)" x="-6.73" y="0" font-size="21.97">T</text><text transform="translate(820.77,558.20) scale(0.434,1)" x="-8.00" y="0" font-size="21.97">N</text><text transform="translate(828.20,558.20) scale(0.428,1)" x="-7.93" y="0" font-size="21.97">U</text><text transform="translate(835.63,558.20) scale(0.350,1)" x="-9.76" y="0" font-size="21.97">M</text><text transform="translate(843.06,558.20) scale(0.494,1)" x="-7.11" y="0" font-size="21.97">B</text><text transform="translate(850.49,558.20) scale(0.547,1)" x="-6.48" y="0" font-size="21.97">E</text><text transform="translate(857.93,558.20) scale(0.457,1)" x="-7.63" y="0" font-size="21.97">R</text></g>
<g font-family="Liberation Serif" fill="#222"><text transform="translate(766.25,588.60) scale(0.492,1)" x="-6.79" y="0" font-size="19.55">R</text><text transform="translate(773.36,588.60) scale(0.458,1)" x="-7.24" y="0" font-size="19.55">K</text><text transform="translate(780.48,588.60) scale(0.733,1)" x="-5.48" y="0" font-size="19.55">S</text><text transform="translate(786.31,588.60) scale(0.790,1)" x="-2.44" y="0" font-size="19.55">.</text><text transform="translate(794.71,588.60) scale(0.790,1)" x="-4.89" y="0" font-size="19.55">0</text><text transform="translate(801.82,588.60) scale(0.784,1)" x="-5.02" y="0" font-size="19.55">6</text><text transform="translate(808.94,588.60) scale(0.951,1)" x="-5.16" y="0" font-size="19.55">1</text><text transform="translate(814.77,588.60) scale(0.790,1)" x="-2.44" y="0" font-size="19.55">.</text><text transform="translate(823.16,588.60) scale(0.835,1)" x="-4.78" y="0" font-size="19.55">2</text><text transform="translate(830.28,588.60) scale(0.831,1)" x="-5.07" y="0" font-size="19.55">5</text><text transform="translate(836.11,588.60) scale(0.790,1)" x="-2.44" y="0" font-size="19.55">.</text><text transform="translate(844.51,588.60) scale(0.951,1)" x="-5.16" y="0" font-size="19.55">1</text><text transform="translate(851.62,588.60) scale(0.831,1)" x="-5.07" y="0" font-size="19.55">5</text><text transform="translate(858.74,588.60) scale(0.811,1)" x="-4.97" y="0" font-size="19.55">3</text><text transform="translate(865.85,588.60) scale(0.720,1)" x="-4.92" y="0" font-size="19.55">4</text></g>
</svg></body></html>
